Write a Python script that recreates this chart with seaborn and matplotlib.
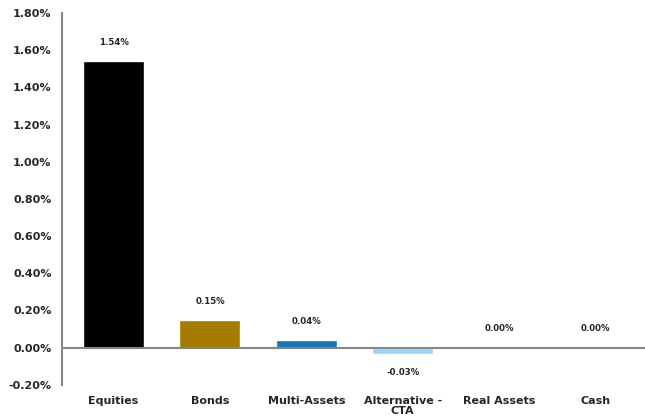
import matplotlib
matplotlib.use("Agg")
import matplotlib.pyplot as plt
import seaborn as sns
import pandas as pd
from matplotlib.ticker import FixedLocator, FuncFormatter

categories = ["Equities", "Bonds", "Multi-Assets", "Alternative -\nCTA", "Real Assets", "Cash"]
values = [1.54, 0.15, 0.04, -0.034, 0.0, 0.001]
labels = ["1.54%", "0.15%", "0.04%", "-0.03%", "0.00%", "0.00%"]
colors = ["#000000", "#A67C00", "#1874B4", "#99D4F8", "#2F4F6F", "#6A8AAA"]
yticks = [-0.2, 0.0, 0.2, 0.4, 0.6, 0.8, 1.0, 1.2, 1.4, 1.6, 1.8]

sns.set_style("white")
plt.rcParams['font.family'] = ['Verdana', 'DejaVu Sans']

df = pd.DataFrame({"cat": categories, "val": values})
fig = plt.figure(figsize=(6.45, 4.17), dpi=100)
ax = fig.add_axes([0.096, 0.077, 0.902, 0.892])
sns.barplot(data=df, x="cat", y="val", hue="cat", palette=dict(zip(categories, colors)),
            width=0.633, legend=False, ax=ax, saturation=1)

ax.set_ylim(-0.2, 1.8)
ax.set_xlim(-0.536, len(categories) - 0.5)
ax.set_yticks(yticks)
ax.yaxis.set_major_formatter(FuncFormatter(lambda v, p: f"{v:.2f}%"))
ax.set_xlabel("")
ax.set_ylabel("")

gray = "#868686"
for s in ["top", "right"]:
    ax.spines[s].set_visible(False)
ax.spines["left"].set_color(gray)
ax.spines["left"].set_linewidth(1.5)
ax.spines["bottom"].set_position(("data", 0))
ax.spines["bottom"].set_color(gray)
ax.spines["bottom"].set_linewidth(1.5)

ax.tick_params(axis="y", which="major", direction="out", length=4, color=gray, width=1,
               labelsize=8)
for t in ax.get_yticklabels():
    t.set_fontweight("bold")
ax.xaxis.set_minor_locator(FixedLocator([i + 0.5 for i in range(len(categories))]))
ax.tick_params(axis="x", which="minor", direction="out", length=4, color=gray, width=1)
ax.tick_params(axis="x", which="major", length=0, pad=35, labelsize=8)
for t in ax.get_xticklabels():
    t.set_fontweight("bold")
    t.set_verticalalignment("top")
    t.set_linespacing(0.95)

for i, (v, lab) in enumerate(zip(values, labels)):
    off = -13.5 if v < 0 else 13.5
    ax.annotate(lab, (i, v), xytext=(0, off), textcoords="offset points",
                ha="center", va="center", fontsize=6.2, fontweight="bold")

fig.savefig("out.png", dpi=100)
